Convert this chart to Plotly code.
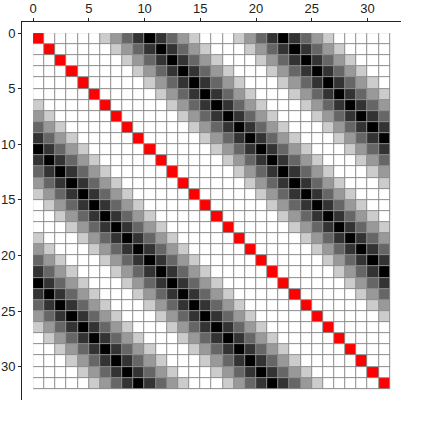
import numpy as np
import plotly.graph_objects as go

## ---- data ----
n_cells = 32
# shade of a cell by its distance from the diagonal (1 = white, 0 = black)
offsets = list(range(n_cells))
shade_by_offset = [1.0,
                   1.0, 1.0, 1.0, 1.0, 1.0,
                   0.8, 0.6, 0.4, 0.2, 0.0, 0.2, 0.4, 0.6, 0.8,
                   1.0, 1.0, 1.0,
                   0.8, 0.6, 0.4, 0.2, 0.0, 0.2, 0.4, 0.6, 0.8,
                   1.0, 1.0, 1.0, 1.0, 1.0]
tick_vals = [0, 5, 10, 15, 20, 25, 30]

## ---- build matrices ----
idx = np.arange(n_cells)
dist = np.abs(idx[:, None] - idx[None, :])
shade = np.array(shade_by_offset)[dist]
diag = np.where(dist == 0, 1.0, np.nan)
shade = np.where(dist == 0, np.nan, shade)
base = np.ones((n_cells, n_cells))

fig = go.Figure()
# gray under-layer that shows through the gaps as cell borders
fig.add_trace(go.Heatmap(z=base, x0=0.5, dx=1, y0=0.5, dy=1,
                         colorscale=[[0, '#8c8c8c'], [1, '#8c8c8c']],
                         showscale=False, hoverinfo='skip'))
fig.add_trace(go.Heatmap(z=shade, x0=0.5, dx=1, y0=0.5, dy=1,
                         zmin=0, zmax=1, colorscale=[[0, '#000000'], [1, '#ffffff']],
                         xgap=1, ygap=1, showscale=False))
fig.add_trace(go.Heatmap(z=diag, x0=0.5, dx=1, y0=0.5, dy=1,
                         colorscale=[[0, '#ff0000'], [1, '#ff0000']],
                         xgap=1, ygap=1, showscale=False))

axis_style = dict(showgrid=False, zeroline=False, showline=True, linecolor='#222222',
                  linewidth=1, ticks='outside', ticklen=3, tickcolor='#222222',
                  automargin=False,
                  tickvals=tick_vals, tickfont=dict(size=13, color='#222222'))
fig.update_layout(
    width=423, height=423,
    margin=dict(l=22, r=22, t=22, b=23),
    plot_bgcolor='white', paper_bgcolor='white',
    font=dict(family='Liberation Sans, Arial, sans-serif'),
    xaxis=dict(range=[-1, 33], side='top', **axis_style),
    yaxis=dict(range=[33, -1], **axis_style),
)

# drop the browser's default page margin so the figure sits at the window corner
fig.write_html("out.html", config={'displayModeBar': False},
               post_script="document.body.style.margin = '0';")
